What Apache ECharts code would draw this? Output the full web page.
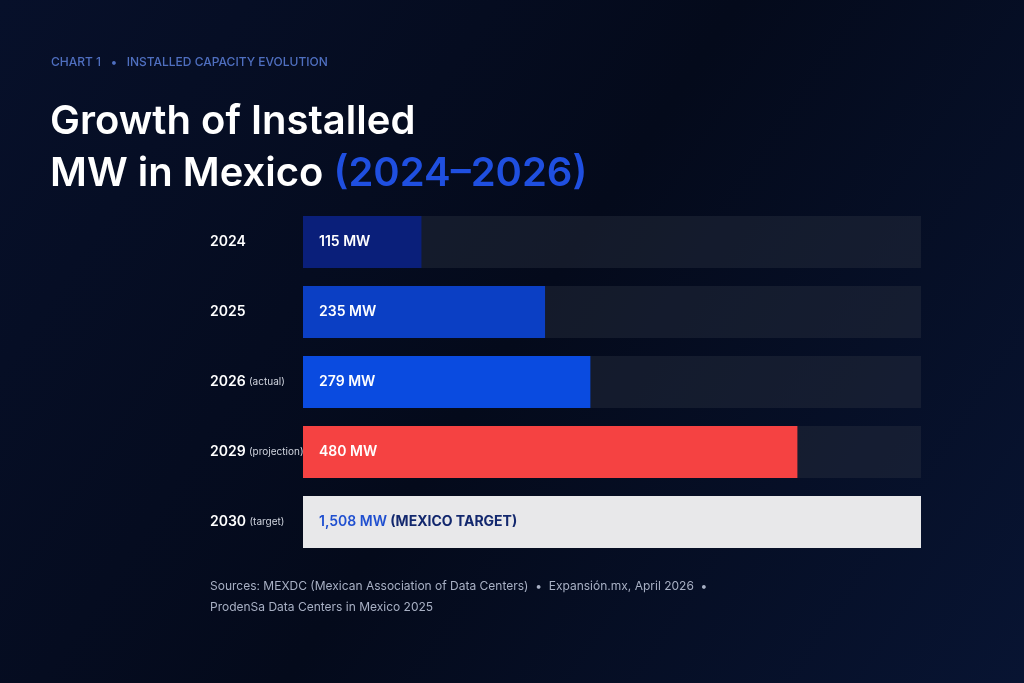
<!DOCTYPE html>
<html><head><meta charset="utf-8">
<script src="https://cdn.jsdelivr.net/npm/echarts@6/dist/echarts.min.js"></script>
<style>html,body{margin:0;padding:0;background:#050b1c}#c{width:1024px;height:683px}</style>
</head><body><div id="c"></div>
<script>
const years = ['2024','2025','2026','2029','2030'];
const notes = ['','','(actual)','(projection)','(target)'];
const values = [115,235,279,480,1508];
const colors = ['#0a1f7a','#0b3fc4','#0a4be0','#f54242','#e8e8ea'];
const axisMax = 600;

const chart = echarts.init(document.getElementById('c'));
chart.setOption({
  backgroundColor: new echarts.graphic.LinearGradient(0,0,1,1,[
    {offset:0,color:'#07102a'},{offset:0.5,color:'#040a1b'},{offset:1,color:'#081432'}]),
  graphic: [
    {type:'text',left:51,top:56,style:{text:'CHART 1   •   INSTALLED CAPACITY EVOLUTION',fill:'#4f6fc0',font:'500 12px "Inter", sans-serif',letterSpacing:2.3}},
    {type:'text',left:50,top:102,style:{text:'Growth of Installed',fill:'#ffffff',font:'600 40px "Inter", sans-serif'}},
    {type:'text',left:50,top:154,style:{rich:{a:{fill:'#ffffff',font:'600 40px "Inter", sans-serif'},b:{fill:'#1f4fe0',font:'600 40px "Inter", sans-serif'}},text:'{a|MW in Mexico }{b|(2024–2026)}'}},
    {type:'text',left:210,top:576,style:{text:'Sources: MEXDC (Mexican Association of Data Centers)  •  Expansión.mx, April 2026  •\nProdenSa Data Centers in Mexico 2025',fill:'#a8b0c4',font:'12px "Inter", sans-serif',lineHeight:21}}
  ],
  grid:{left:303,right:103,top:207,bottom:126},
  xAxis:{type:'value',min:0,max:axisMax,show:false},
  yAxis:{type:'category',data:years,inverse:true,axisLine:{show:false},axisTick:{show:false},
    axisLabel:{align:'left',margin:93,formatter:(v,i)=>'{y|'+v+'}'+(notes[i]?' {n|'+notes[i]+'}':''),
      rich:{y:{color:'#fff',fontSize:14,fontWeight:600,fontFamily:'Inter'},n:{color:'#d0d4de',fontSize:10,fontFamily:'Inter'}}}},
  series:[{type:'bar',barWidth:52,clip:true,showBackground:true,
    backgroundStyle:{color:'rgba(40,46,62,0.45)'},
    data:values.map((v,i)=>({value:v,itemStyle:{color:colors[i]}})),
    label:{show:true,position:'insideLeft',distance:16,
      formatter:p=>p.dataIndex===4?'{t|'+p.value.toLocaleString('en-US')+' MW} {u|(MEXICO TARGET)}':'{w|'+p.value+' MW}',
      rich:{w:{color:'#fff',fontSize:14,fontWeight:600,fontFamily:'Inter'},
        t:{color:'#1f4fd0',fontSize:14,fontWeight:600,fontFamily:'Inter'},
        u:{color:'#13286e',fontSize:14,fontWeight:700,fontFamily:'Inter'}}}}]
});
</script></body></html>
